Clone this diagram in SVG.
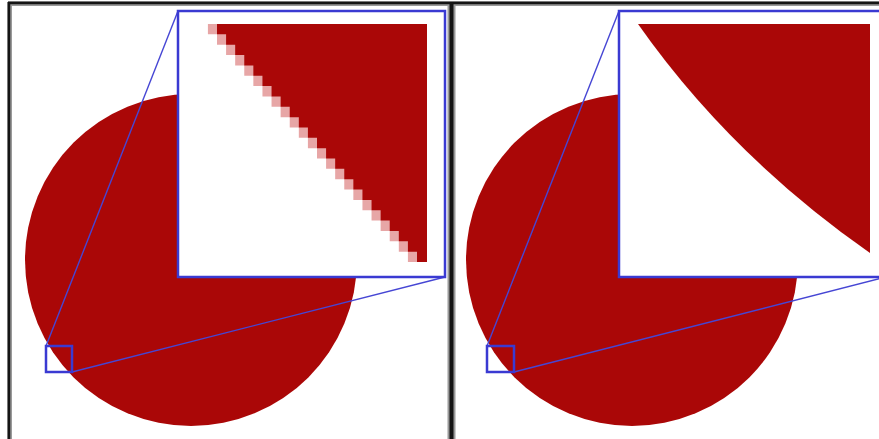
<svg xmlns="http://www.w3.org/2000/svg" width="879" height="439" viewBox="0 0 879 439">
  <defs>
    <style>
      .disc { fill: #aa0707; }
      .red { fill: #aa0707; }
      .pink { fill: #e7a6a6; }
      .inset { fill: #ffffff; stroke: #3a3ad2; stroke-width: 2.5; }
      .lens { fill: none; stroke: #3a3ad2; stroke-width: 2.5; }
      .ray { stroke: #4646d4; stroke-width: 1.4; fill: none; }
      .frame { stroke: #151515; fill: none; }
      .halo { stroke: #9a9a9a; fill: none; }
    </style>
  </defs>
  <rect width="879" height="439" fill="#ffffff"/>

  <g id="frame">
    <line class="halo" x1="8" y1="3.5" x2="879" y2="3.5" stroke-width="5"/>
    <line class="halo" x1="9.5" y1="2" x2="9.5" y2="439" stroke-width="5"/>
    <line class="halo" x1="451.5" y1="2" x2="451.5" y2="439" stroke-width="8"/>
    <line class="frame" x1="8" y1="3" x2="879" y2="3" stroke-width="2.5"/>
    <line class="frame" x1="9" y1="2" x2="9" y2="439" stroke-width="2.5"/>
    <line class="frame" x1="451.5" y1="2" x2="451.5" y2="439" stroke-width="4"/>
  </g>

  <g id="raster-panel">
    <circle class="disc" cx="191" cy="260" r="166"/>
    <g id="raster-connectors">
      <line class="ray" x1="46" y1="346" x2="178" y2="11"/>
      <line class="ray" x1="72" y1="372" x2="445" y2="277"/>
    </g>
    <rect id="raster-lens" class="lens" x="46" y="346" width="26" height="26"/>
    <g id="raster-inset">
      <rect class="inset" x="178" y="11" width="267" height="266"/>
      <path class="pink" d="M427 24 H207.91 V34.35 H217 V44.7 H226.09 V55.04 H235.18 V65.39 H244.27 V75.74 H253.36 V86.09 H262.45 V96.43 H271.55 V106.78 H280.64 V117.13 H289.73 V127.48 H298.82 V137.83 H307.91 V148.17 H317 V158.52 H326.09 V168.87 H335.18 V179.22 H344.27 V189.57 H353.36 V199.91 H362.45 V210.26 H371.55 V220.61 H380.64 V230.96 H389.73 V241.3 H398.82 V251.65 H407.91 V262 H427 Z"/>
      <path class="red" d="M427 24 H217 V34.35 H226.09 V44.7 H235.18 V55.04 H244.27 V65.39 H253.36 V75.74 H262.45 V86.09 H271.55 V96.43 H280.64 V106.78 H289.73 V117.13 H298.82 V127.48 H307.91 V137.83 H317 V148.17 H326.09 V158.52 H335.18 V168.87 H344.27 V179.22 H353.36 V189.57 H362.45 V199.91 H371.55 V210.26 H380.64 V220.61 H389.73 V230.96 H398.82 V241.3 H407.91 V251.65 H417 V262 H427 Z"/>
    </g>
  </g>

  <g id="vector-panel">
    <circle class="disc" cx="632" cy="260" r="166"/>
    <g id="vector-connectors">
      <line class="ray" x1="487" y1="346" x2="619" y2="11"/>
      <line class="ray" x1="514" y1="372" x2="886" y2="277"/>
    </g>
    <rect id="vector-lens" class="lens" x="487" y="346" width="27" height="26"/>
    <g id="vector-inset">
      <rect class="inset" x="619" y="11" width="267" height="266"/>
      <path class="red" d="M638 24 H870 V253 Q730 155 638 24 Z"/>
    </g>
  </g>
</svg>
